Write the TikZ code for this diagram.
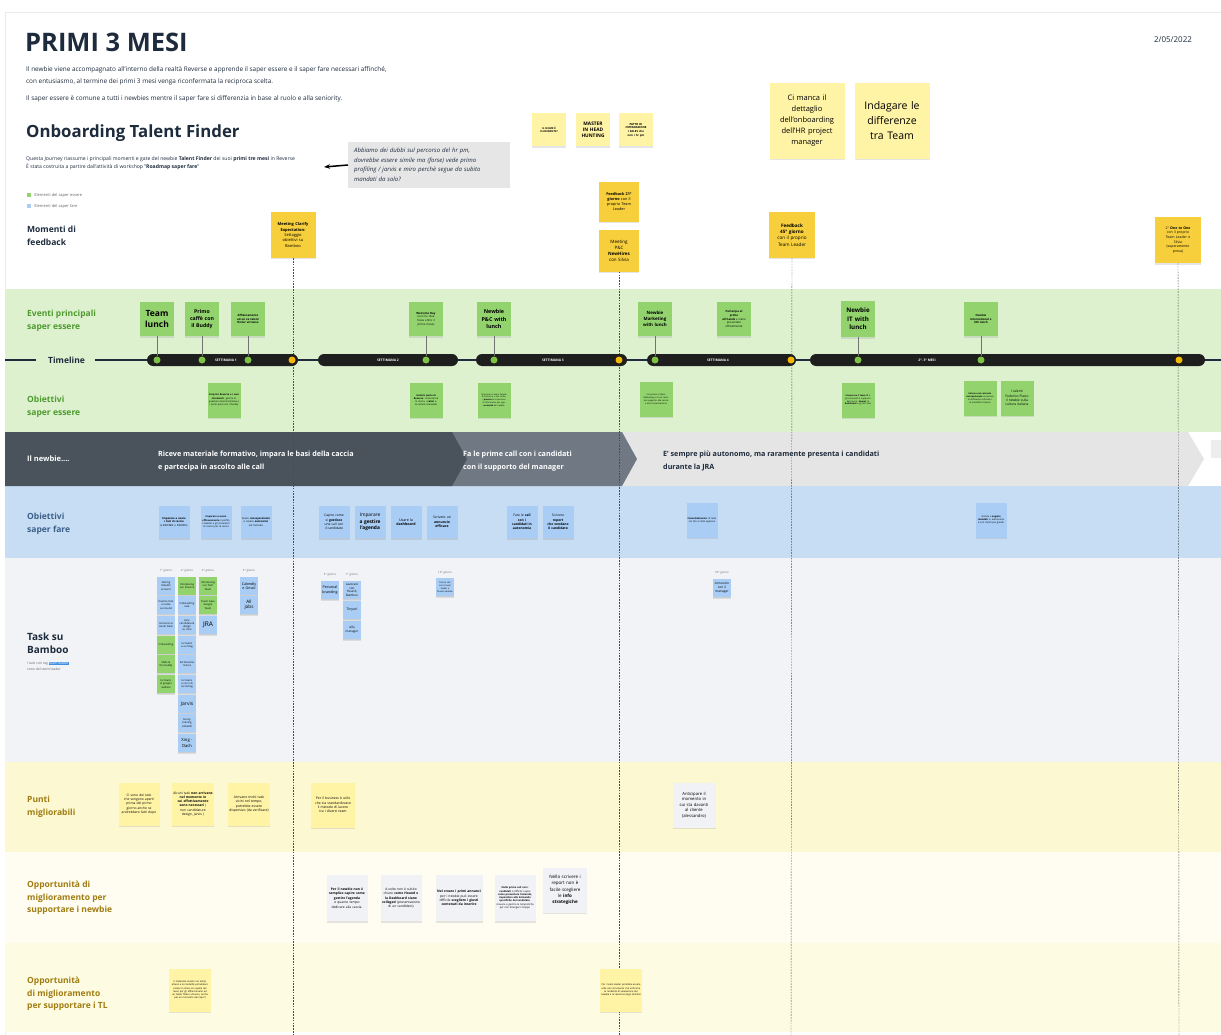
\documentclass[tikz,border=0pt]{standalone}
\usepackage{fontspec}
\setmainfont{Open Sans}
\usetikzlibrary{positioning,shadows,arrows.meta}
\definecolor{navy}{HTML}{1E2B3C}
\definecolor{bandgreen}{HTML}{DDF1CF}
\definecolor{bandblue}{HTML}{C7DDF4}
\definecolor{bandgray}{HTML}{F1F3F6}
\definecolor{bandpunti}{HTML}{FCF8D2}
\definecolor{bandopp}{HTML}{FFFDF1}
\definecolor{bandtl}{HTML}{FDFBE1}
\definecolor{essgreen}{HTML}{92D36E}
\definecolor{fareblue}{HTML}{A9CDF4}
\definecolor{memoyellow}{HTML}{FFF4A6}
\definecolor{feedyellow}{HTML}{F7CF3C}
\definecolor{papergray}{HTML}{F1F2F6}
\definecolor{doubtgray}{HTML}{E6E6E6}
\definecolor{phdark}{HTML}{4A535C}
\definecolor{phmid}{HTML}{6F7883}
\definecolor{phlight}{HTML}{E5E5E5}
\definecolor{capsule}{HTML}{1E1E1E}
\definecolor{dotgreen}{HTML}{7DC242}
\definecolor{dotyellow}{HTML}{F5B800}
\definecolor{greentxt}{HTML}{4E9A2E}
\definecolor{bluetxt}{HTML}{3B5F88}
\definecolor{ochre}{HTML}{A07C12}
\definecolor{hl}{HTML}{3D8FE0}
\newcommand{\fsz}[2]{\fontsize{#1}{#2}\selectfont}
\tikzset{
  note/.style={rectangle, inner sep=1pt, align=center, text width=29pt, minimum height=33pt, font=\fsz{3}{3.6}, drop shadow={shadow xshift=0pt, shadow yshift=-1.5pt, opacity=.2}},
  ess/.style={note, fill=essgreen},
  fare/.style={note, fill=fareblue},
  memo/.style={note, fill=memoyellow},
  feed/.style={note, fill=feedyellow, text width=38pt, minimum height=40pt},
  paper/.style={note, fill=papergray, text width=39pt, minimum height=46pt},
  task/.style={note, text width=16pt, minimum height=18pt, font=\fsz{2.6}{3.1}, drop shadow={shadow xshift=0pt, shadow yshift=-1pt, opacity=.15}},
  day/.style={font=\fsz{2.8}{3}, text=black!60, inner sep=0pt},
  rowlabel/.style={anchor=west, align=left, inner sep=0pt, font=\bfseries\fsz{8.5}{12.5}},
  phase/.style={anchor=west, align=left, inner sep=0pt, font=\bfseries\fsz{7.2}{13}},
  week/.style={rectangle, rounded corners=6pt, fill=capsule, minimum height=12pt, inner sep=0pt},
  weeklabel/.style={text=white, font=\bfseries\fsz{3.3}{4}, inner sep=0pt},
  gdot/.style={circle, fill=dotgreen, minimum size=7pt, inner sep=0pt},
  ydot/.style={circle, fill=dotyellow, minimum size=7pt, inner sep=0pt},
  stem/.style={draw=black!55, line width=.5pt},
  guide/.style={draw=black!70, line width=.45pt, dash pattern=on 1.6pt off 1.2pt}
}
\begin{document}
\hyphenpenalty=10000 \exhyphenpenalty=10000
\begin{tikzpicture}[x=1pt,y=-1pt]
\useasboundingbox (0,0) rectangle (1221,1035);
\fill[white] (0,0) rectangle (1221,1035);
\draw[black!8] (5,1035) -- (5,12) -- (1221,12);
\fill[bandgreen] (5,289) rectangle (1221,432);
\fill[bandblue] (5,486) rectangle (1221,558);
\fill[bandgray] (5,558) rectangle (1221,762);
\fill[bandpunti] (5,762) rectangle (1221,852);
\fill[bandopp] (5,852) rectangle (1221,943);
\fill[bandtl] (5,943) rectangle (1221,1032);
\fill[phlight] (610,432) -- (1188,432) -- (1204,459) -- (1188,486) -- (610,486) -- cycle;
\fill[phmid] (440,432) -- (622,432) -- (637,459) -- (622,486) -- (440,486) -- cycle;
\fill[phdark] (5,432) -- (452,432) -- (467,459) -- (452,486) -- (5,486) -- cycle;
\fill[phlight!70] (1211,440) -- (1221,440) -- (1221,458) -- (1211,458) -- cycle;

\node[anchor=west, inner sep=0pt, font=\bfseries\fsz{25.5}{28}, text=navy] (title) at (25,42) {PRIMI 3 MESI};
\node[font=\fsz{8}{9}, text=navy] (date) at (1173,40) {2/05/2022};
\node[anchor=west, align=left, inner sep=0pt, font=\fsz{6.4}{12}, text=navy] (intro) at (26,76) {Il newbie viene accompagnato all'interno della realtà Reverse e apprende il saper essere e il saper fare necessari affinché,\\con entusiasmo, al termine dei primi 3 mesi venga riconfermata la reciproca scelta.};
\node[anchor=west, inner sep=0pt, font=\fsz{6.4}{12}, text=navy] (intro2) at (26,99) {Il saper essere è comune a tutti i newbies mentre il saper fare si differenzia in base al ruolo e alla seniority.};
\node[anchor=west, inner sep=0pt, font=\bfseries\fsz{16.8}{20}, text=navy] (sub) at (26,133) {Onboarding Talent Finder};
\node[anchor=west, align=left, inner sep=0pt, font=\fsz{5.1}{8}, text=navy] (desc) at (26,163) {Questa Journey riassume i principali momenti e gate del newbie \textbf{Talent Finder} dei suoi \textbf{primi tre mesi} in Reverse\\È stata costruita a partire dall'attività di workshop "\textbf{Roadmap saper fare}"};
\node[fill=essgreen, minimum size=4pt, inner sep=0pt] (lg1) at (29,195) {};
\node[right=3pt of lg1, font=\fsz{4}{4.5}, text=black!60, inner sep=0pt] (lg1t) {Elementi del saper essere};
\node[fill=fareblue, minimum size=4pt, inner sep=0pt] (lg2) at (29,206) {};
\node[right=3pt of lg2, font=\fsz{4}{4.5}, text=black!60, inner sep=0pt] (lg2t) {Elementi del saper fare};
\node[anchor=west, fill=doubtgray, text width=150pt, align=left, inner sep=6pt, minimum height=46pt, font=\itshape\fsz{6}{9.5}, text=navy] (doubt) at (348,165) {Abbiamo dei dubbi sul percorso del hr pm,\\dovrebbe essere simile ma (forse) vede primo\\profiling / jarvis e miro perchè segue da subito\\mandati da solo?};
\coordinate (doubtend) at (324,167);
\draw[-{Stealth[length=6pt,width=4.5pt]}, line width=1.5pt, black] (doubt.west) -- (doubtend);

\node[memo, text width=32pt, font=\bfseries\fsz{2.6}{3.2}] (m1) at (549,130) {IL NOME È\\FLORIDANTE?};
\node[memo, text width=32pt, font=\bfseries\fsz{4.8}{6}] (m2) at (593,130) {MASTER\\IN HEAD\\HUNTING};
\node[memo, text width=32pt, font=\bfseries\fsz{2.8}{3.6}] (m3) at (636,130) {PATTO DI\\INTEGRAZIONE\\I SALES che\\non i hr pm};
\node[memo, text width=73pt, minimum height=76pt, font=\fsz{7.5}{11}] (big1) at (807,121) {Ci manca il\\dettaglio\\dell'onboarding\\dell'HR project\\manager};
\node[memo, text width=73pt, minimum height=76pt, font=\fsz{10.5}{15}] (big2) at (892,121) {Indagare le\\differenze\\tra Team};

\node[rowlabel, text=navy] (lbfeed) at (27,236) {Momenti di\\feedback};
\node[rowlabel, text=greentxt] (lbev) at (27,321) {Eventi principali\\saper essere};
\node[rowlabel, text=navy] (lbtime) at (48,360) {Timeline};
\node[rowlabel, text=greentxt] (lbess) at (27,407) {Obiettivi\\saper essere};
\node[phase, text=white, font=\bfseries\fsz{7.5}{13}] (lbnew) at (27,459) {Il newbie....};
\node[rowlabel, text=bluetxt] (lbfare) at (27,524) {Obiettivi\\saper fare};
\node[rowlabel, text=navy, font=\bfseries\fsz{10}{13}] (lbtask) at (27,643) {Task su\\Bamboo};
\node[anchor=west, align=left, inner sep=0pt, font=\fsz{3.4}{5.5}, text=black!60] (lbtasknote) at (27,666) {I task con tag {\setlength\fboxsep{.4pt}\colorbox{hl}{\textcolor{white}{team leader}}}\\sono del team leader};
\node[rowlabel, text=ochre] (lbpunti) at (27,807) {Punti\\migliorabili};
\node[rowlabel, text=ochre] (lbopp) at (27,898) {Opportunità di\\miglioramento per\\supportare i newbie};
\node[rowlabel, text=ochre] (lbtl) at (27,994) {Opportunità\\di miglioramento\\per supportare i TL};

\node[phase, text=white] (ph1) at (158,461) {Riceve materiale formativo, impara le basi della caccia\\ e partecipa in ascolto alle call};
\node[phase, text=white] (ph2) at (463,461) {Fa le prime call con i candidati\\con il supporto del manager};
\node[phase, text=navy] (ph3) at (663,461) {E' sempre più autonomo, ma raramente presenta i candidati\\durante la JRA};

\node[feed, text width=43pt, minimum height=46pt, font=\fsz{4}{5.4}] (fb1) at (293,235) {\textbf{Meeting Clarify}\\\textbf{Expectation:}\\Settaggio\\obiettivi su\\Bamboo};
\node[feed, font=\fsz{3.8}{5}] (fb2) at (619,202) {\textbf{Feedback 21°}\\\textbf{giorno} con il\\proprio Team\\Leader};
\node[feed, minimum height=41pt, font=\fsz{4.5}{6}] (fb3) at (619,251) {Meeting\\P\&C\\\textbf{NewHires}\\con Silvia};
\node[feed, text width=44pt, minimum height=46pt, font=\fsz{4.6}{6.2}] (fb4) at (792,235) {\textbf{Feedback}\\\textbf{45° giorno}\\con il proprio\\Team Leader};
\node[feed, text width=44pt, minimum height=46pt, font=\fsz{3.5}{4.7}] (fb5) at (1178,240) {2° \textbf{One to One}\\con il proprio\\Team Leader e\\Silvia\\(superamento\\prova)};

\coordinate (gend1) at (293,1035);
\coordinate (gend2) at (619,1035);
\coordinate (gend3) at (791,1035);
\coordinate (gend4) at (1179,1035);
\draw[guide] (fb1.south) -- (gend1);
\draw[guide] (fb3.south) -- (gend2);
\draw[guide] (fb4.south) -- (gend3);
\draw[guide] (fb5.south) -- (gend4);

\draw[navy, line width=2.2pt] (5,360) -- ([xshift=-12pt]lbtime.west);
\draw[navy, line width=1.5pt] ([xshift=10pt]lbtime.east) -- (1221,360);
\node[week, minimum width=151pt] (s1) at (222.5,360) {};
\node[week, minimum width=140pt] (s2) at (388,360) {};
\node[week, minimum width=151pt] (s3) at (551.5,360) {};
\node[week, minimum width=149pt] (s4) at (721.5,360) {};
\node[week, minimum width=395pt] (s5) at (1007.5,360) {};
\node[weeklabel] (w1) at (226,360) {SETTIMANA 1};
\node[weeklabel] (w2) at (388,360) {SETTIMANA 2};
\node[weeklabel] (w3) at (553,360) {SETTIMANA 3};
\node[weeklabel] (w4) at (718,360) {SETTIMANA 4};
\node[weeklabel] (w5) at (927,360) {2°- 3° MESI};
\node[gdot] (d1) at (157,360) {};
\node[gdot] (d2) at (202,360) {};
\node[gdot] (d3) at (248,360) {};
\node[ydot] (y1) at (292,360) {};
\node[gdot] (d4) at (426,360) {};
\node[gdot] (d5) at (494,360) {};
\node[ydot] (y2) at (619,360) {};
\node[gdot] (d6) at (655,360) {};
\node[ydot] (y3) at (791,360) {};
\node[gdot] (d7) at (858,360) {};
\node[gdot] (d8) at (981,360) {};
\node[ydot] (y4) at (1179,360) {};

\node[ess, text width=32pt, minimum height=34pt, font=\bfseries\fsz{8.5}{10.5}] (ev1) at (157,319) {Team\\lunch};
\node[ess, text width=32pt, minimum height=34pt, font=\bfseries\fsz{5.2}{7}] (ev2) at (202,319) {Primo\\caffè con\\il Buddy};
\node[ess, text width=32pt, minimum height=34pt, font=\bfseries\fsz{2.8}{3.6}] (ev3) at (248,319) {Affiancamento\\ad un ex talent\\finder virtuoso};
\node[ess, text width=32pt, minimum height=34pt, font=\fsz{2.8}{3.6}] (ev4) at (426,319) {\textbf{Welcome Day}\\(non ho idea\\fosse entro il\\primo mese)};
\node[ess, text width=32pt, minimum height=34pt, font=\bfseries\fsz{5.4}{7.4}] (ev5) at (494,319) {Newbie\\P\&C with\\lunch};
\node[ess, text width=32pt, minimum height=34pt, font=\bfseries\fsz{4.4}{6}] (ev6) at (655,319) {Newbie\\Marketing\\with lunch};
\node[ess, text width=32pt, minimum height=34pt, font=\fsz{2.8}{3.6}] (ev7) at (734,319) {\textbf{Partecipa al}\\\textbf{primo}\\\textbf{all hands} e viene\\presentato\\ufficialmente};
\node[ess, text width=32pt, minimum height=36pt, font=\bfseries\fsz{6.2}{8.4}] (ev8) at (858,319) {Newbie\\IT with\\lunch};
\node[ess, text width=32pt, minimum height=34pt, font=\bfseries\fsz{2.8}{3.6}] (ev9) at (981,319) {Newbie\\International e\\lith lunch};
\draw[stem] (ev1) -- (d1);
\draw[stem] (ev2) -- (d2);
\draw[stem] (ev3) -- (d3);
\draw[stem] (ev4) -- (d4);
\draw[stem] (ev5) -- (d5);
\draw[stem] (ev6) -- (d6);
\draw[stem] (ev8) -- (d7);
\draw[stem] (ev9) -- (d8);

\node[ess, text width=31pt, minimum height=35pt, font=\fsz{2.4}{3.1}] (ob1) at (224,400) {\textbf{Scoprire Reverse e i suoi strumenti}: gestire le questioni amministrative e i primi passi con il buddy};
\node[ess, text width=31pt, minimum height=35pt, font=\fsz{2.4}{3.1}] (ob2) at (426,400) {\textbf{Sentirsi parte di Reverse}: conoscerne la storia, i \textbf{valori} e la cultura aziendale};
\node[ess, text width=31pt, minimum height=35pt, font=\fsz{2.1}{2.8}] (ob3) at (494,400) {Conoscere il team People \& Culture e il suo ruolo, i \textbf{processi} e le persone di riferimento per ogni \textbf{necessità} del newbie};
\node[ess, text width=31pt, minimum height=35pt, font=\fsz{2.2}{2.9}] (ob4) at (656,399) {Conoscere il team Marketing e il suo ruolo nel supporto alla caccia e alla comunicazione};
\node[ess, text width=31pt, minimum height=35pt, font=\fsz{2.2}{2.9}] (ob5) at (858,400) {\textbf{Conoscere il team IT} e gli strumenti a supporto del lavoro: \textbf{Hound}, la \textbf{dashboard} e gli altri tool};
\node[ess, text width=31pt, minimum height=35pt, font=\fsz{2.2}{2.9}] (ob6) at (980,398) {\textbf{Entrare nel contesto internazionale} conoscere le differenze culturali e le modalità di lavoro};
\node[ess, text width=31pt, minimum height=35pt, font=\fsz{3.3}{4.4}] (ob7) at (1017,398) {I talenti\\Federico Flavio\\il newbie sulla\\cultura italiana};

\node[fare, minimum height=32pt, font=\fsz{2.7}{3.4}] (sf1) at (174,522) {\textbf{Imparare a usare i tool di caccia} (LINKEDIN e INDEED)};
\node[fare, minimum height=32pt, font=\fsz{2.4}{3.1}] (sf2) at (216,522) {\textbf{Imparare a usare efficacemente} il profilo LinkedIn e gli strumenti di ricerca per la caccia};
\node[fare, minimum height=32pt, font=\fsz{2.6}{3.3}] (sf3) at (256,522) {Avere \textbf{consapevolezza} e essere \textbf{autonomo} sul mercato};
\node[fare, minimum height=32pt, font=\fsz{3.3}{4.3}] (sf4) at (334,522) {Capire come\\si \textbf{gestisce}\\una call con\\il candidato};
\node[fare, minimum height=32pt, font=\fsz{4.8}{6.2}] (sf5) at (370,522) {Imparare\\\textbf{a gestire}\\\textbf{l'agenda}};
\node[fare, minimum height=32pt, font=\fsz{3.6}{4.6}] (sf6) at (406,522) {Usare la\\\textbf{dashboard}};
\node[fare, minimum height=32pt, font=\fsz{3.4}{4.4}] (sf7) at (442,522) {Scrivere un\\\textbf{annuncio}\\\textbf{efficace}};
\node[fare, minimum height=32pt, font=\fsz{3.3}{4.3}] (sf8) at (522,522) {Fare le \textbf{call}\\\textbf{con i}\\\textbf{candidati in}\\\textbf{autonomia}};
\node[fare, minimum height=32pt, font=\fsz{3.3}{4.3}] (sf9) at (558,522) {Scrivere\\\textbf{report}\\\textbf{che vendano}\\\textbf{il candidato}};
\node[fare, minimum height=35pt, font=\fsz{2.4}{3.1}] (sf10) at (702,520) {\textbf{Consolidamento} di tutto ciò che è stato appreso};
\node[fare, minimum height=35pt, font=\fsz{2.4}{3.1}] (sf11) at (991,520) {Iniziare a \textbf{seguire mandati} in autonomia e con clienti più grandi};

\node[day] (dy1) at (166,571) {1° giorno};
\node[day] (dy2) at (187,571) {2° giorno};
\node[day] (dy3) at (208,571) {3° giorno};
\node[day] (dy4) at (249,571) {5° giorno};
\node[day] (dy5) at (330,575) {6° giorno};
\node[day] (dy6) at (352,575) {7° giorno};
\node[day] (dy7) at (445,573) {10° giorno};
\node[day] (dy8) at (722,573) {30° giorno};
\node[task, fill=fareblue] (t11) at (166,586) {Setting linkedin account};
\node[task, fill=fareblue] (t12) at (166,605) {Inserire foto e nome su Hound};
\node[task, fill=fareblue] (t13) at (166,625) {Iscriversi ai canali Slack};
\node[task, fill=essgreen] (t14) at (166,645) {Onboarding};
\node[task, fill=essgreen] (t15) at (166,664) {Skills \& the buddy};
\node[task, fill=essgreen] (t16) at (166,684) {Iscriversi al gruppo welfare};
\node[task, fill=essgreen] (t21) at (187,586) {Introducing our Finance};
\node[task, fill=fareblue] (t22) at (187,605) {Onboarding task};
\node[task, fill=fareblue] (t23) at (187,625) {Fare candidature design su miro};
\node[task, fill=fareblue] (t24) at (187,645) {Iscriversi a un blog};
\node[task, fill=fareblue] (t25) at (187,664) {Formazione ricerca};
\node[task, fill=fareblue] (t26) at (187,684) {Iscriversi a corsi di recruiting};
\node[task, fill=fareblue, font=\fsz{5}{6}] (t27) at (187,704) {Jarvis};
\node[task, fill=fareblue] (t28) at (187,723) {Sunny training LinkedIn};
\node[task, fill=fareblue, font=\fsz{4.2}{5.2}] (t29) at (187,743) {Xing -\\Dach};
\node[task, fill=essgreen] (t31) at (208,586) {Introducing our Tech Team};
\node[task, fill=essgreen] (t32) at (208,605) {Touch base Google Team};
\node[task, fill=fareblue, font=\fsz{6.5}{7.5}] (t33) at (208,625) {JRA};
\node[task, fill=fareblue, font=\fsz{3.6}{4.4}] (t41) at (249,586) {Calendly\\e Gmail};
\node[task, fill=fareblue, font=\fsz{4.6}{5.6}] (t42) at (249,605) {All\\jobs};
\node[task, fill=fareblue, font=\fsz{3.6}{4.4}] (t51) at (330,590) {Personal\\branding};
\node[task, fill=fareblue, font=\fsz{3}{3.7}] (t61) at (352,590) {Lavorare con Hound, Bamboo};
\node[task, fill=fareblue, font=\fsz{3.4}{4.2}] (t62) at (352,610) {Tinyurl};
\node[task, fill=fareblue, font=\fsz{3}{3.7}] (t63) at (352,630) {Alfa manager};
\node[task, fill=fareblue, font=\fsz{2.2}{2.8}] (t71) at (445,587) {Fare la call con il team leader e fissare obiettivi};
\node[task, fill=fareblue, font=\fsz{3.2}{4}] (t81) at (722,588) {Annuncio con il manager};

\node[memo, text width=39pt, minimum height=43pt, font=\fsz{3.3}{4.2}] (pm1) at (139,804) {Ci sono dei task che vengono aperti prima del primo giorno anche se andrebbero fatti dopo};
\node[memo, text width=40pt, minimum height=43pt, font=\fsz{3.3}{4.2}] (pm2) at (193,804) {Alcuni task \textbf{non arrivano nel momento in cui effettivamente sono necessari} ( non candidature design, Jarvis )};
\node[memo, text width=40pt, minimum height=43pt, font=\fsz{3.4}{4.4}] (pm3) at (249,804) {Arrivano molti task vicini nel tempo, potrebbe essere dispersivo (da verificare)};
\node[memo, text width=42pt, minimum height=45pt, font=\fsz{3.4}{4.4}] (pm4) at (333,805) {Per il business è utile che sia standardizzato il metodo di lavoro tra i diversi team};
\node[paper, text width=41pt, minimum height=45pt, font=\fsz{4.2}{5.6}] (pm5) at (694,805) {Anticipare il\\momento in\\cui sta davanti\\al cliente\\(alessandro)};

\node[paper, font=\fsz{3.3}{4.4}] (on1) at (347,898) {\textbf{Per il newbie non è semplice capire come gestire l'agenda} e quanto tempo dedicare alla caccia.};
\node[paper, font=\fsz{3.3}{4.4}] (on2) at (401,898) {A volte non è subito chiaro \textbf{come Hound e la Dashboard siano collegati} (presentazione di un candidato)};
\node[paper, text width=45pt, font=\fsz{3.3}{4.4}] (on3) at (459,898) {\textbf{Nel creare i primi annunci} per i newbie può essere difficile \textbf{scegliere i giusti contenuti da inserire}};
\node[paper, font=\fsz{2.5}{3.3}] (on4) at (515,898) {\textbf{Nelle prime call con i candidati} è difficile capire \textbf{come presentare l'azienda, rispondere alle domande specifiche del candidato}, ricavare e gestire le tempistiche per non dilungarsi troppo};
\node[paper, text width=42pt, minimum height=45pt, font=\fsz{4.5}{6.2}] (on5) at (565,890) {Nello scrivere i\\report non è\\facile scegliere\\le \textbf{info}\\\textbf{strategiche}};

\node[memo, text width=40pt, minimum height=43pt, font=\fsz{2.4}{3.2}] (tl1) at (190,990) {Il materiale inviato nei tempi attuali e le modalità potrebbero essere in linea con quelle del team per gli affiancamenti ad un talent finder virtuoso, anche per un momento del report};
\node[memo, text width=40pt, minimum height=43pt, font=\fsz{2.4}{3.2}] (tl2) at (621,990) {Per i team leader potrebbe essere utile uno strumento che uniforma la modalità di valutazione del newbie e la revisione degli obiettivi};
\end{tikzpicture}
\end{document}
